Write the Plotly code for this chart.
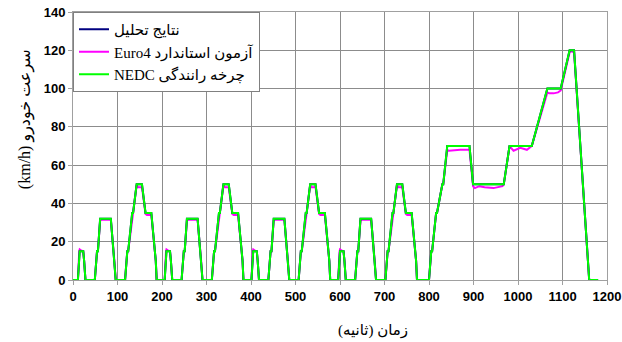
import plotly.graph_objects as go

# ---- NEDC driving cycle (green) ----
nedc_t = [0, 11, 15, 23, 25, 28, 49, 54, 56, 61, 85, 93, 96, 117, 122, 124, 133, 135, 143, 155, 163, 176, 186, 188,
          195, 206, 210, 218, 220, 223, 244, 249, 251, 256, 280, 288, 291, 312, 317, 319, 328, 330, 338, 350, 358, 371, 381, 383,
          390, 401, 405, 413, 415, 418, 439, 444, 446, 451, 475, 483, 486, 507, 512, 514, 523, 525, 533, 545, 553, 566, 576, 578,
          585, 596, 600, 608, 610, 613, 634, 639, 641, 646, 670, 678, 681, 702, 707, 709, 718, 720, 728, 740, 748, 761, 771, 773,
          800, 805, 807, 816, 818, 830, 832, 841, 891, 899, 968, 981, 1031, 1066, 1096, 1116, 1126, 1160, 1180]
nedc_v = [0, 0, 15, 15, 10, 0, 0, 15, 15, 32, 32, 10, 0, 0, 15, 15, 35, 35, 50, 50, 35, 35, 10, 0,
          0, 0, 15, 15, 10, 0, 0, 15, 15, 32, 32, 10, 0, 0, 15, 15, 35, 35, 50, 50, 35, 35, 10, 0,
          0, 0, 15, 15, 10, 0, 0, 15, 15, 32, 32, 10, 0, 0, 15, 15, 35, 35, 50, 50, 35, 35, 10, 0,
          0, 0, 15, 15, 10, 0, 0, 15, 15, 32, 32, 10, 0, 0, 15, 15, 35, 35, 50, 50, 35, 35, 10, 0,
          0, 15, 15, 35, 35, 50, 50, 70, 70, 50, 50, 70, 70, 100, 100, 120, 120, 0, 0]

# ---- Analysis results (navy) ----
analysis_t = list(nedc_t)
analysis_v = list(nedc_v)

# ---- Euro4 standard test (magenta) ----
euro_t = [0, 11, 14, 15, 18, 23, 25, 28, 49, 54, 56, 61, 65, 85, 93, 96, 117, 122, 124, 133, 135, 143, 146, 155, 163, 166, 176, 186, 188,
          195, 206, 209, 210, 213, 218, 220, 223, 244, 249, 251, 256, 260, 280, 288, 291, 312, 317, 319, 328, 330, 338, 341, 350, 358, 361, 371, 381, 383,
          390, 401, 404, 405, 408, 413, 415, 418, 439, 444, 446, 451, 455, 475, 483, 486, 507, 512, 514, 523, 525, 533, 536, 545, 553, 556, 566, 576, 578,
          585, 596, 599, 600, 603, 608, 610, 613, 634, 639, 641, 646, 650, 670, 678, 681, 702, 707, 709, 718, 720, 728, 731, 740, 748, 751, 761, 771, 773,
          800, 805, 807, 816, 818, 830, 832, 841, 845, 870, 891, 899, 903, 913, 925, 945, 965, 968, 981, 985, 990, 1005, 1020, 1031,
          1066, 1070, 1080, 1090, 1096, 1116, 1120, 1126, 1160, 1180]
euro_v = [0, 0, 15, 16, 15.5, 15, 10, 0, 0, 15, 15, 31, 31.5, 31.5, 10, 0, 0, 15, 15, 34, 35, 49.5, 48.5, 48.5, 34.5, 34, 34, 10, 0,
          0, 0, 15, 16, 15.5, 15, 10, 0, 0, 15, 15, 31, 31.5, 31.5, 10, 0, 0, 15, 15, 34, 35, 49.5, 48.5, 48.5, 34.5, 34, 34, 10, 0,
          0, 0, 15, 16, 15.5, 15, 10, 0, 0, 15, 15, 31, 31.5, 31.5, 10, 0, 0, 15, 15, 34, 35, 49.5, 48.5, 48.5, 34.5, 34, 34, 10, 0,
          0, 0, 15, 16, 15.5, 15, 10, 0, 0, 15, 15, 31, 31.5, 31.5, 10, 0, 0, 15, 15, 34, 35, 49.5, 48.5, 48.5, 34.5, 34, 34, 10, 0,
          0, 15, 15, 35, 35, 50, 50, 68, 67.5, 68, 68, 49, 48, 49, 48.5, 48, 49, 50, 70, 69, 67.5, 69, 68, 70,
          98, 97.5, 97.5, 98, 99, 119, 119.5, 119, 0, 0]

x_ticks = [0, 100, 200, 300, 400, 500, 600, 700, 800, 900, 1000, 1100, 1200]
y_ticks = [0, 20, 40, 60, 80, 100, 120, 140]

name_analysis = "نتایج تحلیل"
name_euro = "Euro4 آزمون استاندارد"
name_nedc = "NEDC چرخه رانندگی"
x_title = "زمان (ثانیه)\u200f"
y_title = "(km/h) سرعت خودرو"

fig = go.Figure()
fig.add_trace(go.Scatter(x=euro_t, y=euro_v, mode="lines", name=name_euro, legendrank=2,
                         line=dict(color="#FF00FF", width=2)))
fig.add_trace(go.Scatter(x=analysis_t, y=analysis_v, mode="lines", name=name_analysis, legendrank=1,
                         line=dict(color="#000080", width=2)))
fig.add_trace(go.Scatter(x=nedc_t, y=nedc_v, mode="lines", name=name_nedc, legendrank=3,
                         line=dict(color="#00FF00", width=2)))

axis_common = dict(showgrid=True, gridcolor="#8c8c8c", gridwidth=1, zeroline=False,
                   showline=True, linecolor="#a0a0a0", linewidth=1, mirror=True,
                   ticks="outside", ticklen=4, tickcolor="#a0a0a0", automargin=False,
                   tickfont=dict(family="Liberation Sans, Arial", size=13, color="black", weight="bold"))

fig.update_xaxes(range=[0, 1200], tickvals=x_ticks, **axis_common)
fig.update_yaxes(range=[0, 140], tickvals=y_ticks, **axis_common)

fig.update_layout(
    width=622, height=342,
    margin=dict(l=73, r=15, t=12, b=62, autoexpand=False),
    paper_bgcolor="white", plot_bgcolor="white",
    showlegend=True,
    legend=dict(x=0, y=1, xanchor="left", yanchor="top", bgcolor="white",
                bordercolor="#808080", borderwidth=1,
                font=dict(family="Liberation Serif, DejaVu Sans", size=15, color="black"),
                itemwidth=30, tracegroupgap=0),
    annotations=[
        dict(text=x_title, xref="paper", yref="paper", x=0.562, y=-0.187, showarrow=False,
             xanchor="center", yanchor="middle",
             font=dict(family="Liberation Serif, DejaVu Sans", size=15, color="black")),
        dict(text=y_title, xref="paper", yref="paper", x=-0.09, y=0.6, showarrow=False,
             textangle=-90, xanchor="center", yanchor="middle",
             font=dict(family="Liberation Serif, DejaVu Sans", size=16, color="black")),
    ],
)

fig.write_html("out.html", config={"displayModeBar": False},
               post_script="document.body.style.margin='0';document.body.style.padding='0';")
